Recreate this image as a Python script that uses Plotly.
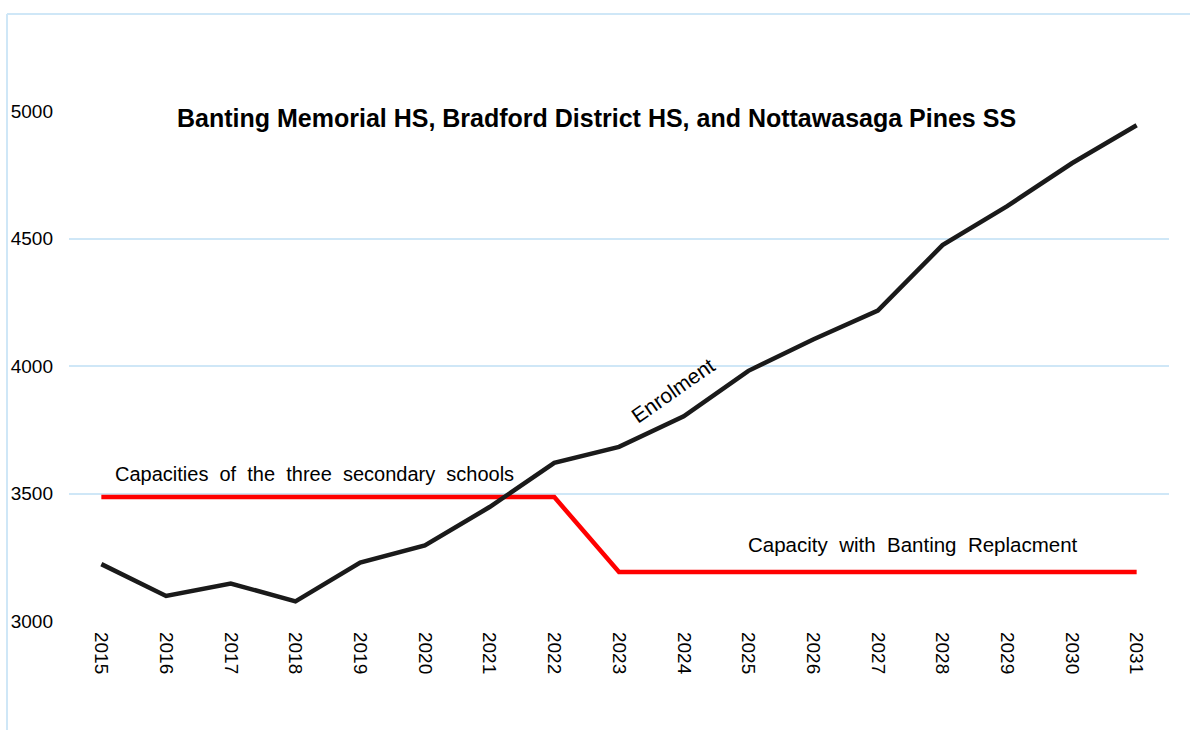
import plotly.graph_objects as go

years = list(range(2015, 2032))
year_labels = [str(y) for y in years]
enrolment = [3223, 3098, 3147, 3077, 3229, 3296, 3447, 3620, 3683, 3803,
             3981, 4104, 4217, 4474, 4627, 4795, 4944]
capacity = [3486, 3486, 3486, 3486, 3486, 3486, 3486, 3486, 3192, 3192,
            3192, 3192, 3192, 3192, 3192, 3192, 3192]
y_ticks = [3000, 3500, 4000, 4500, 5000]

title_text = "Banting Memorial HS, Bradford District HS, and Nottawasaga Pines SS"
cap_label_1 = "Capacities of the three secondary schools"
cap_label_2 = "Capacity with Banting Replacment"
enrol_label = "Enrolment"

FONT = "Liberation Sans, Arial, sans-serif"
GRID = "#cfe7f7"
SP = " \u00a0"  # wider word spacing as in the reference

fig = go.Figure()
fig.add_trace(go.Scatter(x=years, y=capacity, mode="lines",
                         line=dict(color="#ff0000", width=4.5),
                         name="Capacity", hoverinfo="x+y"))
fig.add_trace(go.Scatter(x=years, y=enrolment, mode="lines",
                         line=dict(color="#1a1a1a", width=4.5),
                         name="Enrolment", hoverinfo="x+y"))

L, R, T, B = 69, 21, 111, 109
W, H = 1190, 730
pw, ph = W - L - R, H - T - B

fig.update_layout(
    width=W, height=H,
    margin=dict(l=L, r=R, t=T, b=B, pad=0),
    paper_bgcolor="white", plot_bgcolor="white",
    showlegend=False,
    font=dict(family=FONT, color="black", size=19),
    xaxis=dict(range=[2014.5, 2031.5], tickvals=years, ticktext=year_labels,
               tickangle=90, showgrid=False, zeroline=False, showline=False,
               ticks="", tickfont=dict(size=19), ticklabelstandoff=10),
    yaxis=dict(range=[3000, 5000], tickvals=y_ticks, showgrid=True,
               gridcolor=GRID, gridwidth=1.5, zeroline=False, showline=False,
               ticks="", tickfont=dict(size=19), ticklabelstandoff=15),
    annotations=[
        dict(text="<b>" + title_text + "</b>", xref="paper", yref="paper",
             x=(596.5 - L) / pw, y=(H - B - 118) / ph, xanchor="center",
             yanchor="middle", showarrow=False, font=dict(size=25, family=FONT)),
        dict(text=SP.join(cap_label_1.split(" ")), xref="x", yref="y",
             x=2018.29, y=3576, xanchor="center", yanchor="middle",
             showarrow=False, font=dict(size=20, family=FONT)),
        dict(text=SP.join(cap_label_2.split(" ")), xref="x", yref="y",
             x=2027.54, y=3301, xanchor="center", yanchor="middle",
             showarrow=False, font=dict(size=20.5, family=FONT)),
        dict(text=enrol_label, xref="x", yref="y", x=2023.83, y=3905,
             xanchor="center", yanchor="middle", showarrow=False,
             textangle=-35, font=dict(size=21, family=FONT)),
    ],
    shapes=[
        dict(type="line", xref="paper", yref="paper",
             x0=(7 - L) / pw, x1=(W + 10 - L) / pw,
             y0=(H - B - 14) / ph, y1=(H - B - 14) / ph,
             line=dict(color=GRID, width=2)),
        dict(type="line", xref="paper", yref="paper",
             x0=(7 - L) / pw, x1=(7 - L) / pw,
             y0=(H - B - 14) / ph, y1=(H - B - W) / ph,
             line=dict(color=GRID, width=2)),
    ],
)

fig.write_html("out.html",
               config={"displayModeBar": False},
               post_script="document.body.style.margin='0';"
                           "document.body.style.overflow='hidden';")
